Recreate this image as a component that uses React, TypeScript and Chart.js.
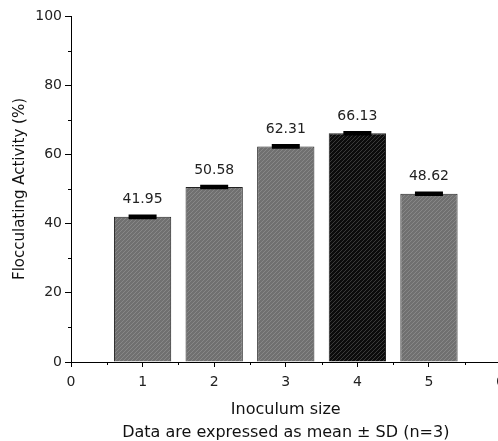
import React, { useEffect, useRef } from "react";
import { Chart, registerables } from "chart.js";

Chart.register(...registerables);

const inoculumSizes = [1, 2, 3, 4, 5];
const activity = [41.95, 50.58, 62.31, 66.13, 48.62];
const sdValues = [0.3, 0.3, 0.3, 0.3, 0.3];
const valueLabels = ["41.95", "50.58", "62.31", "66.13", "48.62"];
const highlightIndex = 3;
const xTicks = [0, 1, 2, 3, 4, 5, 6];
const yTicks = [0, 20, 40, 60, 80, 100];

const FONT = "'DejaVu Sans', sans-serif";

function makePattern(base: string, line: string): CanvasPattern | string {
  const c = document.createElement("canvas");
  c.width = 4;
  c.height = 4;
  const g = c.getContext("2d");
  if (!g) return base;
  g.fillStyle = base;
  g.fillRect(0, 0, 4, 4);
  g.strokeStyle = line;
  g.lineWidth = 1;
  g.beginPath();
  g.moveTo(0, 4);
  g.lineTo(4, 0);
  g.moveTo(-1, 1);
  g.lineTo(1, -1);
  g.moveTo(3, 5);
  g.lineTo(5, 3);
  g.stroke();
  const p = g.createPattern(c, "repeat");
  return p || base;
}

const extrasPlugin = {
  id: "extras",
  afterDatasetsDraw(chart: any) {
    const ctx = chart.ctx;
    const meta = chart.getDatasetMeta(0);
    const yScale = chart.scales.y;
    const xScale = chart.scales.x;
    ctx.save();
    // error bars
    ctx.strokeStyle = "#000";
    meta.data.forEach((bar: any, i: number) => {
      const v = activity[i];
      const yTop = yScale.getPixelForValue(v + sdValues[i]);
      const yBot = yScale.getPixelForValue(v - sdValues[i]);
      ctx.lineWidth = 1.5;
      ctx.beginPath();
      ctx.moveTo(bar.x, yTop);
      ctx.lineTo(bar.x, yBot);
      ctx.stroke();
      ctx.lineWidth = 2.5;
      ctx.beginPath();
      ctx.moveTo(bar.x - 14, yTop);
      ctx.lineTo(bar.x + 14, yTop);
      ctx.moveTo(bar.x - 14, yBot);
      ctx.lineTo(bar.x + 14, yBot);
      ctx.stroke();
    });
    // value labels
    ctx.fillStyle = "#222";
    ctx.font = `14px ${FONT}`;
    ctx.textAlign = "center";
    ctx.textBaseline = "middle";
    meta.data.forEach((bar: any, i: number) => {
      const top = yScale.getPixelForValue(activity[i] + sdValues[i]);
      ctx.fillText(valueLabels[i], bar.x, top - 16);
    });
    // minor ticks
    ctx.strokeStyle = "#000";
    ctx.lineWidth = 1;
    ctx.beginPath();
    for (let v = 10; v < 100; v += 20) {
      const y = Math.round(yScale.getPixelForValue(v)) + 0.5;
      ctx.moveTo(yScale.right - 3, y);
      ctx.lineTo(yScale.right, y);
    }
    for (let v = 0.5; v < 6; v += 1) {
      const x = Math.round(xScale.getPixelForValue(v)) + 0.5;
      ctx.moveTo(x, xScale.top);
      ctx.lineTo(x, xScale.top + 3);
    }
    ctx.stroke();
    ctx.restore();
  },
};

export default function App() {
  const ref = useRef<HTMLCanvasElement | null>(null);

  useEffect(() => {
    document.documentElement.style.overflow = "hidden";
    document.body.style.overflow = "hidden";
    const canvas = ref.current;
    if (!canvas) return;
    const grayPat = makePattern("#707070", "#878787");
    const blackPat = makePattern("#0c0c0c", "#3a3a3a");
    const colors = inoculumSizes.map((_, i) => (i === highlightIndex ? blackPat : grayPat));

    const chart = new Chart(canvas, {
      type: "bar",
      data: {
        datasets: [
          {
            data: inoculumSizes.map((x, i) => ({ x, y: activity[i] })),
            backgroundColor: colors as any,
            borderColor: "#222",
            borderWidth: 1,
            barPercentage: 0.8,
            categoryPercentage: 1,
          },
        ],
      },
      options: {
        responsive: false,
        animation: false,
        devicePixelRatio: 1,
        layout: { padding: { top: 16, right: 11, bottom: 0, left: 0 } },
        plugins: {
          legend: { display: false },
          tooltip: { enabled: false },
        },
        scales: {
          x: {
            type: "linear",
            min: 0,
            max: 6,
            offset: false,
            afterBuildTicks: (s: any) => {
              s.ticks = xTicks.map((v) => ({ value: v }));
            },
            afterFit: (s: any) => {
              s.height = 79;
            },
            ticks: {
              color: "#222",
              font: { family: FONT, size: 14 },
              padding: 7,
              maxRotation: 0,
            },
            grid: {
              offset: false,
              drawOnChartArea: false,
              drawTicks: true,
              tickLength: 5,
              color: "#000",
            },
            border: { display: true, color: "#000", width: 1 },
            title: {
              display: true,
              text: ["Inoculum size", "Data are expressed as mean ± SD (n=3)"],
              color: "#111",
              font: { family: FONT, size: 16, lineHeight: "23px" },
              padding: { top: 0, bottom: -3 },
            },
          },
          y: {
            type: "linear",
            min: 0,
            max: 100,
            afterBuildTicks: (s: any) => {
              s.ticks = yTicks.map((v) => ({ value: v }));
            },
            afterFit: (s: any) => {
              s.width = 71;
            },
            ticks: {
              color: "#222",
              font: { family: FONT, size: 14 },
              padding: 3,
            },
            grid: {
              drawOnChartArea: false,
              drawTicks: true,
              tickLength: 6,
              color: "#000",
            },
            border: { display: true, color: "#000", width: 1 },
            title: {
              display: true,
              text: "Flocculating Activity (%)",
              color: "#111",
              font: { family: FONT, size: 15 },
              padding: { top: 11, bottom: 0 },
            },
          },
        },
      },
      plugins: [extrasPlugin],
    } as any);
    return () => chart.destroy();
  }, []);

  return (
    <div
      style={{
        position: "absolute",
        left: 0,
        top: 0,
        width: 498,
        height: 441,
        overflow: "hidden",
        background: "#fff",
      }}
    >
      <canvas ref={ref} width={512} height={441} style={{ width: 512, height: 441, display: "block" }} />
    </div>
  );
}
